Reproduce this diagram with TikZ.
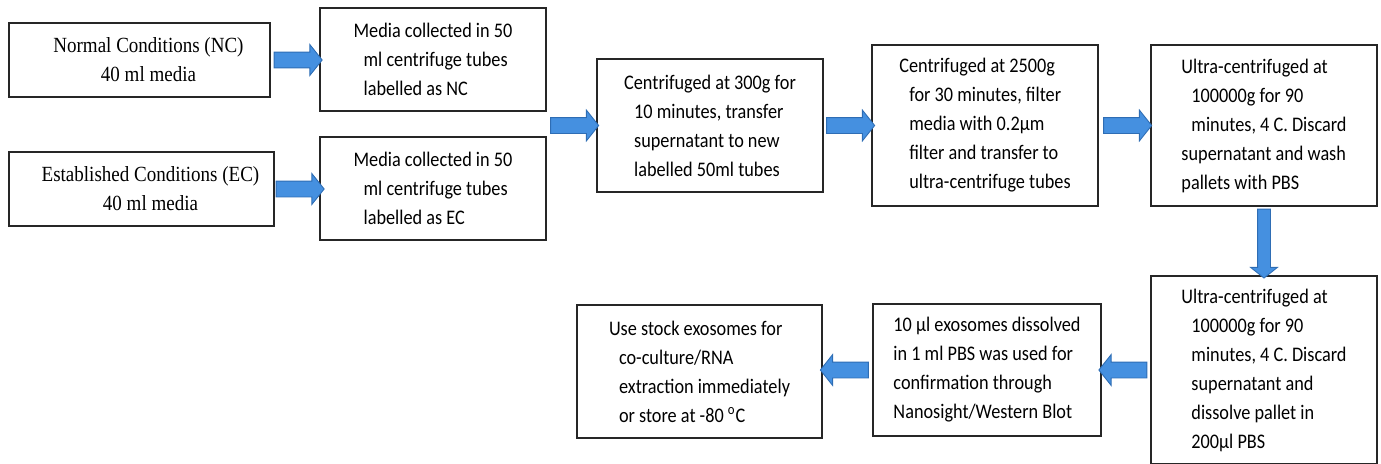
\documentclass[tikz,border=0pt]{standalone}
\usepackage{fontspec}
\setmainfont{Carlito}[FakeStretch=0.88]
\newfontfamily\timesfont{Liberation Serif}[FakeStretch=0.88]
\usetikzlibrary{shapes.arrows}
\definecolor{arrowblue}{HTML}{4590E0}
\definecolor{arrowedge}{HTML}{2E6DB4}
\newcommand{\ind}{\hspace*{0.2cm}}
\tikzstyle{stepbox}=[draw=black!85,line width=0.8pt,align=left,inner sep=0pt,
  font=\fontsize{11.8}{16.5}\selectfont]
\tikzstyle{condbox}=[stepbox,align=center,
  font=\timesfont\fontsize{12.3}{16.5}\selectfont]
\tikzstyle{blockarrow}=[single arrow,draw=arrowedge,fill=arrowblue,line width=0.5pt,
  inner sep=0.15cm,minimum height=0.96cm,
  single arrow head extend=0.15cm,single arrow tip angle=103]

\begin{document}
\begin{tikzpicture}[x=0.02cm,y=-0.02cm]
  \useasboundingbox (0,0) rectangle (1381,463);
  % starting media
  \node[condbox,minimum width=5.22cm,minimum height=1.48cm] (nc) at (139.5,60)
    {\hspace*{0.36cm}Normal Conditions (NC)\\\hspace*{0.36cm}40 ml media};
  \node[condbox,minimum width=5.30cm,minimum height=1.48cm] (ec) at (141.5,189)
    {\hspace*{0.36cm}Established Conditions (EC)\\\hspace*{0.36cm}40 ml media};
  \node[stepbox,minimum width=4.52cm,minimum height=2.06cm] (mednc) at (433,59.5)
    {Media collected in 50\\\ind ml centrifuge tubes\\\ind labelled as NC};
  \node[stepbox,minimum width=4.52cm,minimum height=2.06cm] (medec) at (433,188.5)
    {Media collected in 50\\\ind ml centrifuge tubes\\\ind labelled as EC};
  % centrifugation steps
  \node[stepbox,minimum width=4.52cm,minimum height=2.66cm] (cent300) at (710,125.5)
    {Centrifuged at 300g for\\\ind 10 minutes, transfer\\\ind supernatant to new\\\ind labelled 50ml tubes};
  \node[stepbox,minimum width=4.52cm,minimum height=3.22cm] (cent2500) at (985,125.5)
    {Centrifuged at 2500g\\\ind for 30 minutes, filter\\\ind media with 0.2µm\\\ind filter and transfer to\\\ind ultra-centrifuge tubes};
  \node[stepbox,minimum width=4.52cm,minimum height=3.22cm] (ultraa) at (1264,125.5)
    {Ultra-centrifuged at\\\ind 100000g for 90\\\ind minutes, 4 C. Discard\\supernatant and wash\\pallets with PBS};
  \node[stepbox,minimum width=4.52cm,minimum height=3.76cm] (ultrab) at (1264,370)
    {Ultra-centrifuged at\\\ind 100000g for 90\\\ind minutes, 4 C. Discard\\\ind supernatant and\\\ind dissolve pallet in\\\ind 200µl PBS};
  % checking and storage
  \node[stepbox,minimum width=4.56cm,minimum height=2.64cm] (exo) at (987,370)
    {10 µl exosomes dissolved\\in 1 ml PBS was used for\\confirmation through\\Nanosight/Western Blot};
  \node[stepbox,minimum width=4.90cm,minimum height=2.66cm] (stock) at (699.5,371.5)
    {Use stock exosomes for\\\ind co-culture/RNA\\\ind extraction immediately\\\ind or store at -80 \textsuperscript{o}C};

  % block arrows
  \path (nc.east) -- node[blockarrow] {} (nc.east -| mednc.west);
  \path (ec.east) -- node[blockarrow] {} (ec.east -| medec.west);
  \path (mednc.east |- cent300.west) -- node[blockarrow] {} (cent300.west);
  \path (cent300.east) -- node[blockarrow] {} (cent2500.west);
  \path (cent2500.east) -- node[blockarrow] {} (ultraa.west);
  \path (ultraa.south) -- node[blockarrow,shape border rotate=270,
    minimum height=1.38cm,inner sep=0.12cm,single arrow head extend=0.14cm] {} (ultrab.north);
  \path (ultrab.west |- exo.east) -- node[blockarrow,shape border rotate=180] {} (exo.east);
  \path (exo.west) -- node[blockarrow,shape border rotate=180] {} (exo.west -| stock.east);
\end{tikzpicture}
\end{document}
